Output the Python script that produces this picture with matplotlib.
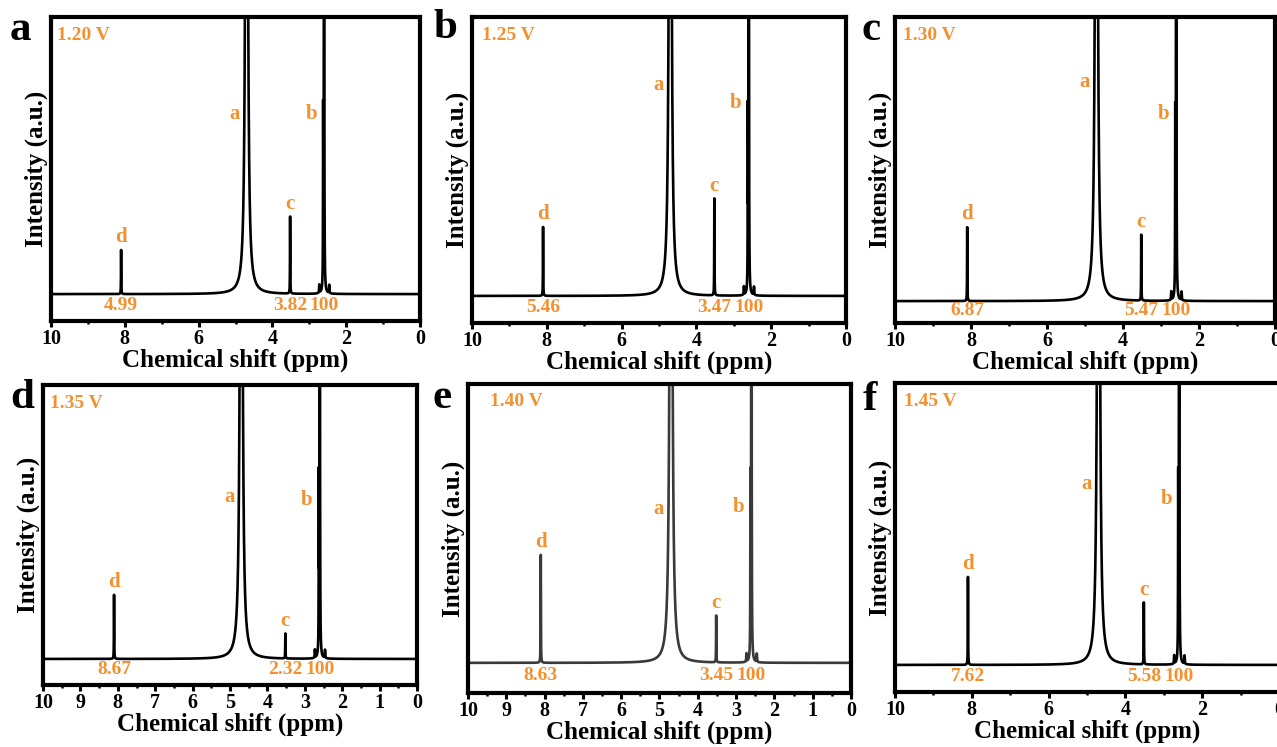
import numpy as np
import matplotlib.pyplot as plt
from matplotlib.ticker import MultipleLocator

plt.rcParams["font.family"] = ["Liberation Serif", "DejaVu Serif"]
plt.rcParams["font.weight"] = "bold"

ORANGE = "#F4912F"

# panels: letter, applied potential
letters = ["a", "b", "c", "d", "e", "f"]
voltages = ["1.20 V", "1.25 V", "1.30 V", "1.35 V", "1.40 V", "1.45 V"]

# peak positions (ppm)
pos_a = 4.70
pos_b = 2.60
pos_c = 3.52
pos_d = 8.10

# relative heights of peaks c and d (baseline = 0, frame top = 1)
height_c = [0.278, 0.348, 0.232, 0.091, 0.168, 0.220]
height_d = [0.159, 0.247, 0.260, 0.234, 0.387, 0.312]

# integrals written under the peaks (b set to 100)
integral_d = ["4.99", "5.46", "6.87", "8.67", "8.63", "7.62"]
integral_c = ["3.82", "3.47", "5.47", "2.32", "3.45", "5.58"]
integral_b = ["100", "100", "100", "100", "100", "100"]

# heights at which the a / b letters sit
label_a_y = [0.65, 0.756, 0.77, 0.59, 0.55, 0.64]
label_b_y = [0.65, 0.69, 0.66, 0.58, 0.56, 0.59]

# space below the baseline inside the frame
y_bottom = [-0.097, -0.097, -0.077, -0.095, -0.108, -0.096]

# axes rectangles in pixels: left, top, right, bottom
W, H = 1277, 747
boxes = [
    (51, 17, 420, 321),
    (472, 17, 846, 323),
    (895, 17, 1275, 323),
    (43, 385, 417, 685),
    (468, 384, 851, 693),
    (895, 383, 1279, 692),
]
letter_xy = [(10, 40), (433, 38), (861, 40), (10, 408), (433, 408), (863, 410)]
volt_dx = [6, 10, 8, 7, 22, 9]
line_colors = ["black", "black", "black", "black", "#3a3a3a", "black"]
tick_step = [2, 2, 2, 1, 1, 2]


def lorentz(x, x0, h, g):
    return h * g**2 / ((x - x0) ** 2 + g**2)


ppm = np.linspace(10, 0, 40001)

fig = plt.figure(figsize=(W / 100, H / 100), dpi=100)

for i in range(6):
    l, t, r, b = boxes[i]
    ax = fig.add_axes([l / W, 1 - b / H, (r - l) / W, (b - t) / H])

    spec = (
        lorentz(ppm, pos_a, 4.3, 0.025)
        + lorentz(ppm, pos_b, 4.0, 0.004)
        + lorentz(ppm, pos_b + 0.025, 0.6, 0.004)
        + lorentz(ppm, pos_b + 0.13, 0.03, 0.006)
        + lorentz(ppm, pos_b - 0.14, 0.03, 0.006)
        + lorentz(ppm, pos_c, height_c[i], 0.004)
        + lorentz(ppm, pos_d, height_d[i], 0.004)
    )
    ax.plot(ppm, spec, color=line_colors[i], lw=1.9)

    ax.set_xlim(10, 0)
    ax.set_ylim(y_bottom[i], 1)
    ax.set_yticks([])
    ax.xaxis.set_major_locator(MultipleLocator(tick_step[i]))
    ax.xaxis.set_minor_locator(MultipleLocator(tick_step[i] / 2))
    ax.tick_params(axis="x", which="major", direction="out", length=4, width=2.2,
                   labelsize=14.5, pad=1.5)
    ax.tick_params(axis="x", which="minor", direction="out", length=2.5, width=1.8)
    for s in ax.spines.values():
        s.set_linewidth(3)
    for lab in ax.get_xticklabels():
        lab.set_fontweight("bold")

    ax.set_xlabel("Chemical shift (ppm)", fontsize=18, fontweight="bold", labelpad=0)
    ax.set_ylabel("Intensity (a.u.)", fontsize=18, fontweight="bold", labelpad=2)

    # peak letters
    kw = dict(textcoords="offset points", color=ORANGE, fontsize=15, fontweight="bold")
    ax.annotate("d", (pos_d, height_d[i]), xytext=(0, 2), ha="center", va="bottom", **kw)
    ax.annotate("c", (pos_c, height_c[i]), xytext=(0, 2), ha="center", va="bottom", **kw)
    ax.annotate("a", (pos_a, label_a_y[i]), xytext=(-5, 0), ha="right", va="center", **kw)
    ax.annotate("b", (pos_b, label_b_y[i]), xytext=(-5, 0), ha="right", va="center", **kw)

    # integrals
    yi = 0.42 * y_bottom[i]
    for xp, txt in [(pos_d, integral_d[i]), (pos_c, integral_c[i]), (pos_b, integral_b[i])]:
        ax.text(xp, yi, txt, ha="center", va="center", color=ORANGE,
                fontsize=14, fontweight="bold")

    ax.text(volt_dx[i] / (r - l), 1 - 18 / (b - t), voltages[i], transform=ax.transAxes,
            ha="left", va="center", color=ORANGE, fontsize=14, fontweight="bold")

    lx, ly = letter_xy[i]
    fig.text(lx / W, 1 - ly / H, letters[i], ha="left", va="baseline",
             fontsize=31, fontweight="bold")

fig.savefig("out.png", dpi=100)
